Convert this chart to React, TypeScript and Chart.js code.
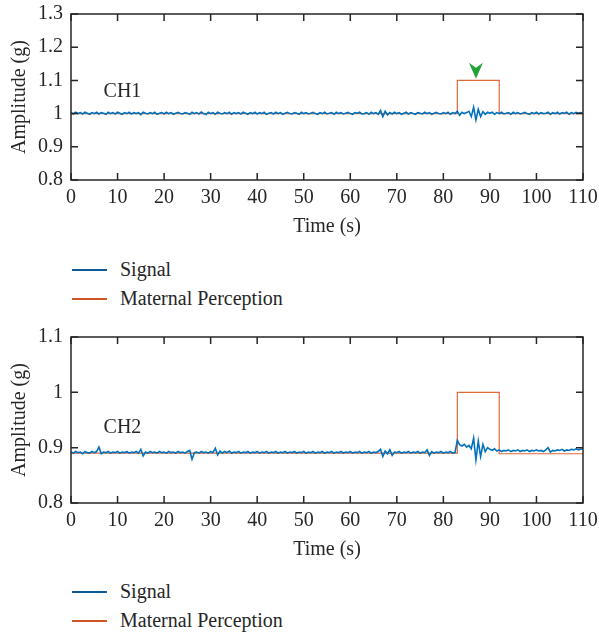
import React, { useEffect, useRef } from "react";
import { Chart, registerables } from "chart.js";

Chart.register(...registerables);

// ---------- data ----------
const SAMPLE_STEP = 0.5; // seconds between signal samples (0 .. 110 s)

const xTickValues = [0, 10, 20, 30, 40, 50, 60, 70, 80, 90, 100, 110];
const ch1YTickValues = [0.8, 0.9, 1.0, 1.1, 1.2, 1.3];
const ch2YTickValues = [0.8, 0.9, 1.0, 1.1];

const perceptionTimes = [0, 83, 83, 92, 92, 110];
const ch1Perception = [1.0, 1.0, 1.1, 1.1, 1.0, 1.0];
const ch2Perception = [0.89, 0.89, 1.0, 1.0, 0.889, 0.889];

const ch1Signal = [
  1.003, 0.999, 1.004, 1.000, 1.003, 0.999, 1.004, 1.001, 0.998, 1.003,
  1.000, 1.004, 0.999, 1.003, 1.001, 0.998, 1.004, 1.000, 1.003, 0.999,
  1.004, 1.001, 0.998, 1.003, 1.000, 1.004, 0.999, 1.003, 1.000, 1.003,
  0.997, 1.004, 1.001, 0.999, 1.003, 1.000, 1.004, 0.998, 1.001, 1.003,
  0.999, 1.004, 1.000, 1.003, 0.998, 1.001, 1.004, 1.000, 0.999, 1.003,
  1.001, 0.998, 1.004, 1.000, 1.003, 0.999, 1.005, 1.000, 0.997, 1.004,
  1.000, 1.003, 0.998, 1.004, 1.001, 0.999, 1.003, 1.000, 1.004, 0.998,
  1.003, 1.000, 1.003, 0.999, 1.004, 1.001, 0.998, 1.003, 1.000, 1.004,
  0.999, 1.003, 1.000, 1.004, 0.998, 1.001, 1.003, 0.999, 1.004, 1.000,
  1.003, 0.998, 1.001, 1.004, 1.000, 0.999, 1.003, 1.001, 0.998, 1.004,
  1.000, 1.003, 0.999, 1.001, 1.004, 1.000, 0.998, 1.003, 1.000, 1.004,
  0.999, 1.001, 1.003, 0.998, 1.004, 1.000, 1.003, 0.999, 1.001, 1.004,
  1.000, 0.998, 1.003, 1.001, 1.004, 0.999, 1.000, 1.003, 0.998, 1.004,
  1.000, 1.003, 0.998, 1.009, 0.991, 1.007, 0.996, 1.003, 0.999, 1.004,
  1.000, 1.003, 0.998, 1.001, 1.004, 0.999, 1.003, 1.000, 0.998, 1.003,
  1.001, 0.999, 1.004, 1.000, 1.003, 0.998, 1.001, 1.004, 1.000, 0.999,
  1.003, 1.000, 1.004, 0.998, 1.003, 1.000, 1.007, 0.995, 1.004, 1.000,
  1.003, 1.007, 0.991, 1.019, 0.981, 1.013, 0.991, 1.006, 0.998, 1.004,
  1.001, 1.004, 0.998, 1.003, 1.000, 1.004, 0.999, 1.001, 1.003, 0.998,
  1.004, 1.000, 1.003, 0.999, 1.001, 1.004, 1.000, 0.998, 1.003, 1.000,
  1.004, 0.999, 1.003, 1.000, 1.001, 1.004, 0.998, 1.003, 1.000, 1.004,
  0.999, 1.003, 1.001, 1.004, 0.998, 1.003, 1.000, 1.004, 1.001, 1.003,
  1.001,
];

const ch2Signal = [
  0.892, 0.890, 0.893, 0.891, 0.892, 0.889, 0.893, 0.891, 0.890, 0.893,
  0.891, 0.893, 0.901, 0.889, 0.892, 0.891, 0.893, 0.890, 0.892, 0.891,
  0.893, 0.890, 0.892, 0.891, 0.893, 0.890, 0.892, 0.891, 0.893, 0.890,
  0.897, 0.885, 0.892, 0.890, 0.893, 0.891, 0.892, 0.890, 0.893, 0.891,
  0.892, 0.890, 0.893, 0.891, 0.892, 0.890, 0.893, 0.891, 0.892, 0.890,
  0.893, 0.895, 0.879, 0.891, 0.892, 0.890, 0.893, 0.891, 0.892, 0.890,
  0.893, 0.891, 0.899, 0.887, 0.894, 0.890, 0.893, 0.891, 0.894, 0.890,
  0.892, 0.891, 0.893, 0.890, 0.892, 0.891, 0.893, 0.890, 0.892, 0.891,
  0.893, 0.890, 0.892, 0.891, 0.893, 0.890, 0.892, 0.891, 0.893, 0.890,
  0.892, 0.891, 0.893, 0.890, 0.892, 0.891, 0.893, 0.890, 0.892, 0.891,
  0.893, 0.890, 0.892, 0.891, 0.893, 0.890, 0.892, 0.891, 0.893, 0.890,
  0.892, 0.891, 0.893, 0.890, 0.892, 0.891, 0.893, 0.890, 0.892, 0.891,
  0.893, 0.890, 0.892, 0.891, 0.893, 0.890, 0.892, 0.891, 0.893, 0.890,
  0.892, 0.891, 0.893, 0.897, 0.884, 0.894, 0.889, 0.896, 0.886, 0.892,
  0.891, 0.893, 0.890, 0.892, 0.891, 0.893, 0.890, 0.892, 0.891, 0.893,
  0.890, 0.892, 0.891, 0.896, 0.886, 0.893, 0.890, 0.892, 0.891, 0.893,
  0.890, 0.892, 0.891, 0.893, 0.890, 0.891, 0.913, 0.905, 0.903, 0.906,
  0.901, 0.904, 0.898, 0.917, 0.878, 0.912, 0.884, 0.906, 0.893, 0.900,
  0.897, 0.895, 0.898, 0.894, 0.896, 0.893, 0.895, 0.894, 0.896, 0.893,
  0.895, 0.894, 0.896, 0.893, 0.895, 0.894, 0.896, 0.893, 0.895, 0.894,
  0.896, 0.894, 0.895, 0.893, 0.896, 0.900, 0.892, 0.895, 0.894, 0.896,
  0.895, 0.897, 0.894, 0.896, 0.895, 0.897, 0.896, 0.898, 0.896, 0.897,
  0.898,
];

const seriesNames = ["Signal", "Maternal Perception"];

// ---------- style ----------
const FONT = "'Liberation Serif', 'Times New Roman', serif";
const TEXT = "#262626";
const SIGNAL_COLOR = "#0072BD";
const PERCEPTION_COLOR = "#E2673A";
const LEGEND_BLUE = "#0E5A96";
const LEGEND_ORANGE = "#CF5427";
const ARROW_GREEN = "#22A33A";
const TICK_LEN = 7;

type PanelProps = {
  label: string;
  labelPos: [number, number];
  signal: number[];
  perception: number[];
  yMin: number;
  yMax: number;
  yTicks: number[];
  arrow?: [number, number];
};

function makeFramePlugin() {
  return {
    id: "frame",
    afterDatasetsDraw(chart: any) {
      const { ctx, chartArea } = chart;
      const { left, right, top, bottom } = chartArea;
      const xs = chart.scales.x;
      const ys = chart.scales.y;
      ctx.save();
      ctx.strokeStyle = TEXT;
      ctx.lineWidth = 1.5;
      ctx.strokeRect(left, top, right - left, bottom - top);
      ctx.beginPath();
      xs.ticks.forEach((t: any) => {
        const p = xs.getPixelForValue(t.value);
        ctx.moveTo(p, bottom);
        ctx.lineTo(p, bottom - TICK_LEN);
        ctx.moveTo(p, top);
        ctx.lineTo(p, top + TICK_LEN);
      });
      ys.ticks.forEach((t: any) => {
        const p = ys.getPixelForValue(t.value);
        ctx.moveTo(left, p);
        ctx.lineTo(left + TICK_LEN, p);
        ctx.moveTo(right, p);
        ctx.lineTo(right - TICK_LEN, p);
      });
      ctx.stroke();
      ctx.restore();
    },
  };
}

function makeAnnotationPlugin(props: PanelProps) {
  return {
    id: "annot",
    afterDraw(chart: any) {
      const { ctx } = chart;
      const xs = chart.scales.x;
      const ys = chart.scales.y;
      ctx.save();
      ctx.fillStyle = TEXT;
      ctx.font = `20px ${FONT}`;
      ctx.textAlign = "left";
      ctx.textBaseline = "middle";
      ctx.fillText(
        props.label,
        xs.getPixelForValue(props.labelPos[0]),
        ys.getPixelForValue(props.labelPos[1])
      );
      if (props.arrow) {
        const ax = xs.getPixelForValue(props.arrow[0]);
        const ay = ys.getPixelForValue(props.arrow[1]);
        ctx.fillStyle = ARROW_GREEN;
        ctx.beginPath();
        ctx.moveTo(ax, ay);
        ctx.lineTo(ax - 7, ay - 16);
        ctx.lineTo(ax, ay - 11);
        ctx.lineTo(ax + 7, ay - 16);
        ctx.closePath();
        ctx.fill();
      }
      ctx.restore();
    },
  };
}

function Panel(props: PanelProps) {
  const ref = useRef<HTMLCanvasElement | null>(null);
  useEffect(() => {
    if (!ref.current) return;
    const signalData = props.signal.map((v, i) => ({ x: i * SAMPLE_STEP, y: v }));
    const perceptionData = props.perception.map((v, i) => ({ x: perceptionTimes[i], y: v }));
    const chart = new Chart(ref.current, {
      type: "line",
      data: {
        datasets: [
          {
            label: seriesNames[0],
            data: signalData,
            borderColor: SIGNAL_COLOR,
            borderWidth: 1.6,
            pointRadius: 0,
            tension: 0,
            order: 0,
          },
          {
            label: seriesNames[1],
            data: perceptionData,
            borderColor: PERCEPTION_COLOR,
            borderWidth: 1.2,
            pointRadius: 0,
            tension: 0,
            order: 1,
          },
        ],
      },
      options: {
        animation: false,
        responsive: false,
        events: [],
        layout: { padding: { left: 0, right: 16, top: 14, bottom: 0 } },
        plugins: {
          legend: { display: false },
          tooltip: { enabled: false },
          title: { display: false },
        },
        scales: {
          x: {
            type: "linear",
            min: 0,
            max: 110,
            grid: { display: false, drawTicks: false },
            border: { display: false },
            afterBuildTicks: (s: any) => {
              s.ticks = xTickValues.map((v) => ({ value: v }));
            },
            afterFit: (s: any) => {
              s.height = 60;
              s.paddingLeft = 0;
              s.paddingRight = 0;
            },
            ticks: {
              padding: 6,
              color: TEXT,
              font: { family: FONT, size: 20 },
              maxRotation: 0,
              callback: (v: any) => String(v),
            },
            title: {
              display: true,
              text: "Time (s)",
              color: TEXT,
              font: { family: FONT, size: 20 },
              padding: { top: 0, bottom: 1 },
            },
          },
          y: {
            type: "linear",
            min: props.yMin,
            max: props.yMax,
            grid: { display: false, drawTicks: false },
            border: { display: false },
            afterBuildTicks: (s: any) => {
              s.ticks = props.yTicks.map((v) => ({ value: v }));
            },
            afterFit: (s: any) => {
              s.width = 71;
              s.paddingTop = 0;
              s.paddingBottom = 0;
            },
            ticks: {
              padding: 8,
              color: TEXT,
              font: { family: FONT, size: 20 },
              callback: (v: any) => String(Math.round(Number(v) * 10) / 10),
            },
            title: {
              display: true,
              text: "Amplitude (g)",
              color: TEXT,
              font: { family: FONT, size: 20 },
              padding: { top: 8, bottom: 0 },
            },
          },
        },
      } as any,
      plugins: [makeFramePlugin(), makeAnnotationPlugin(props)],
    });
    return () => chart.destroy();
  }, []);
  return <canvas ref={ref} width={599} height={240} style={{ display: "block" }} />;
}

function Legend({ top }: { top: number }) {
  const items = [
    { name: seriesNames[0], color: LEGEND_BLUE, y: 0 },
    { name: seriesNames[1], color: LEGEND_ORANGE, y: 29 },
  ];
  return (
    <>
      {items.map((it) => (
        <div key={it.name}>
          <div
            style={{
              position: "absolute",
              left: 72,
              top: top + it.y - 1,
              width: 35,
              height: 2.2,
              background: it.color,
            }}
          />
          <div
            style={{
              position: "absolute",
              left: 120,
              top: top + it.y - 13,
              height: 24,
              lineHeight: "24px",
              fontFamily: FONT,
              fontSize: 20,
              color: TEXT,
              whiteSpace: "nowrap",
            }}
          >
            {it.name}
          </div>
        </div>
      ))}
    </>
  );
}

export default function App() {
  return (
    <div
      style={{
        position: "absolute",
        left: 0,
        top: 0,
        width: 599,
        height: 635,
        background: "#fff",
        overflow: "hidden",
      }}
    >
      <div style={{ position: "absolute", left: 0, top: 0 }}>
        <Panel
          label="CH1"
          labelPos={[7, 1.065]}
          signal={ch1Signal}
          perception={ch1Perception}
          yMin={0.8}
          yMax={1.3}
          yTicks={ch1YTickValues}
          arrow={[87, 1.105]}
        />
      </div>
      <Legend top={270} />
      <div style={{ position: "absolute", left: 0, top: 323 }}>
        <Panel
          label="CH2"
          labelPos={[7, 0.936]}
          signal={ch2Signal}
          perception={ch2Perception}
          yMin={0.8}
          yMax={1.1}
          yTicks={ch2YTickValues}
        />
      </div>
      <Legend top={592} />
    </div>
  );
}
